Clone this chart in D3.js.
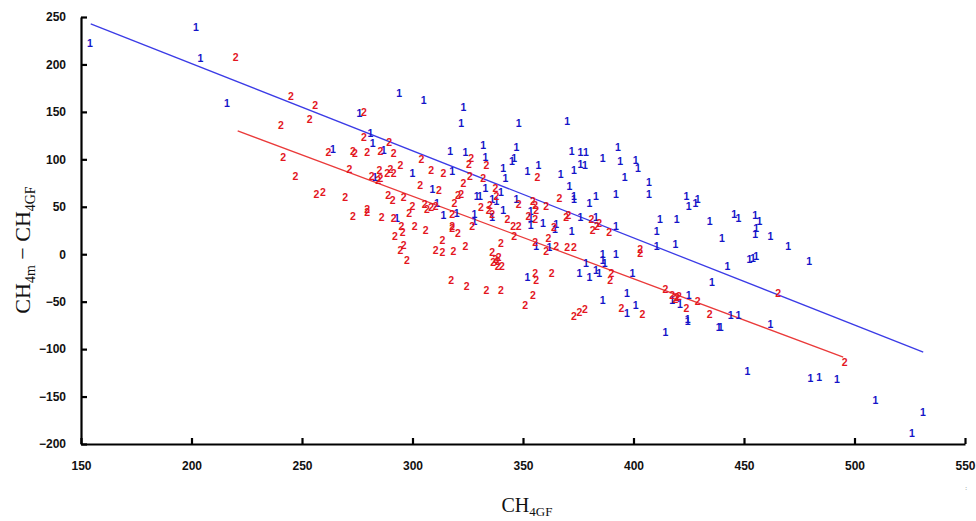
<!DOCTYPE html>
<html>
<head>
<meta charset="utf-8">
<script src="https://cdn.jsdelivr.net/npm/d3@7/dist/d3.min.js"></script>
<style>
  html, body { margin: 0; padding: 0; background: #fff; }
  svg { display: block; }
  .tick text { font-family: "Liberation Sans", Arial, sans-serif; font-weight: bold; font-size: 12px; fill: #111; }
  .axis path, .axis line { stroke: #000; stroke-width: 2.2; }
  .pt { font-family: "Liberation Sans", Arial, sans-serif; font-weight: bold; font-size: 10.5px; }
  .title { font-family: "Liberation Serif", "Times New Roman", serif; fill: #111; }
</style>
</head>
<body>
<svg id="chart" width="976" height="521"></svg>
<script>
// Group 1 observations: [CH4GF, CH4m - CH4GF]
const group1 = [
  [154,222],[202,239],[204,207],[216,159],[294,170],[305,162],[323,155],[322,138],[276,149],[281,128],
  [282,117],[264,111],[287,110],[317,109],[324,108],[283,81],[300,85],[318,87],[309,68],[329,61],
  [311,54],[314,41],[320,43],[293,38],[328,42],[348,138],[370,140],[332,115],[347,113],[333,102],
  [345,98],[346,101],[341,91],[357,94],[352,88],[342,80],[367,84],[372,109],[376,108],[378.5,108],
  [376,95],[378,94],[373,89],[386,101],[393,113],[394,98],[401,99],[402,91],[396,81],[407,76],
  [407,63],[392,63],[383,61],[380,54],[371,72],[373,61],[373,58],[333,70],[340,65],[336,58],
  [330.5,61],[338,56],[347,58],[341,46],[336,39],[328,35],[353.5,45],[353.5,38],[353.5,31],[359,33],
  [365,32],[364.5,26],[372,24],[376,39.5],[383,38.5],[392,30],[410.5,24],[410.5,8.5],[356,8.5],[362,7],
  [386,0],[386,-6],[387,-9],[392,0],[378.5,-10],[375.5,-20],[380,-24],[383,-17],[384.5,-20],[399.5,-20],
  [397,-41],[386,-49],[397,-62],[401,-54],[352,-24],[424,61],[425,51],[428,54],[429,58],[412,37],
  [419.5,37],[434.5,35],[445.5,42],[447.5,38],[455,41],[457,35],[455.5,27],[455,21],[462,19],[470,8.5],
  [479.5,-7],[419,11],[440,17],[452.5,-5.5],[454,-4],[455.5,-2.5],[442.5,-13],[435.5,-30],[417.5,-48],[421,-53],
  [425,-43],[444,-64],[447.5,-64],[424.5,-68],[424.5,-71],[438.5,-77],[439.5,-77],[462,-73.5],[414.5,-82],[451.5,-123],
  [480,-131],[484,-130],[492,-132],[509.5,-154],[531,-166.5],[526,-189]
];

// Group 2 observations: [CH4GF, CH4m - CH4GF]
const group2 = [
  [220,208],[245,167],[256,157],[253.5,142],[240.5,136],[241.5,102],[247,82],[256.5,63],[259.5,65],[262,107],
  [278,150],[278,123],[289.5,118],[273,109],[274,106.5],[279.5,108],[285.5,108.5],[291.5,106],[304,100],[326.5,101],
  [325.5,95],[271.5,90],[294.5,94],[285,89],[290,89.5],[288.5,85],[291.5,85],[281.5,82],[285.5,80],[284.5,77.5],
  [308.5,89],[314,85],[326,82],[303.5,72.5],[312,67.5],[323,75],[320.5,62],[322,63.5],[269.5,60.5],[289,62],
  [291,57],[296,60.5],[305.5,52.5],[306.5,47],[308.5,50],[310.5,50.5],[300,51],[298.5,43.5],[319,53.5],[318,42],
  [279.5,47],[279.5,44.5],[273,40],[286,39.5],[291.5,38],[327,29],[295,29.5],[295.5,23],[301,29.5],[306,25.5],
  [292,19],[318,30],[318,27],[320.5,22],[313.5,15],[296,9],[294.5,4],[310.5,4],[313.5,2],[318.5,3],
  [324,8.5],[297.5,-6],[317.5,-27.5],[324.5,-34],[333.5,94],[356.5,81.5],[332,80.5],[337.5,70],[338,61.5],[354.5,56],
  [355.5,51.5],[360.5,50.5],[366.5,59],[331,49.5],[335,51.5],[334.5,46],[336,42],[348,52.5],[343,37],[352.5,40.5],
  [356,46],[355.5,37],[364,28],[369.5,38.5],[370.5,41],[381,36.5],[381.5,25.5],[383.5,29.5],[384.5,32.5],[389,23],
  [403,5],[403,1],[345.5,29.5],[348,29],[346,19],[340,12],[336,2],[337.5,-5],[339,-3],[336.5,-8],
  [338.5,-7.5],[340.5,-13],[338.5,-12.5],[355.5,13],[360.5,3],[361.5,17],[365,8.5],[370,7],[373,7],[390,-20],
  [389.5,-27],[394.5,-57],[404,-63],[373,-65],[375.5,-61],[378,-58],[351,-54],[354.5,-43],[355.5,-20],[356,-27],
  [363,-20],[333.5,-38],[340,-38],[465.5,-41.5],[414.5,-37],[417.5,-43],[419,-47],[419.5,-45],[420.5,-44],[424,-57],
  [429,-50],[434.5,-63],[495.5,-114]
];

// Fitted regression lines (end points in data units)
const fit1 = [[154.4, 242.7], [531.1, -103.1]];
const fit2 = [[220.9, 130.0], [494.9, -108.4]];

const xTicks = [150, 200, 250, 300, 350, 400, 450, 500, 550];
const yTicks = [-200, -150, -100, -50, 0, 50, 100, 150, 200, 250];

const colors = { g1: "#1414c8", g2: "#e3161e", l1: "#3b3be6", l2: "#ea3a3a" };

const svg = d3.select("#chart");
const x = d3.scaleLinear().domain([150, 550]).range([81, 965]);
const y = d3.scaleLinear().domain([-200, 250]).range([444, 17]);

// axes
svg.append("g")
  .attr("class", "axis")
  .attr("transform", `translate(${x(150)},0)`)
  .call(d3.axisLeft(y).tickValues(yTicks).tickSizeInner(-6).tickSizeOuter(0).tickPadding(15).tickFormat(d3.format("d")));

svg.append("g")
  .attr("class", "axis")
  .attr("transform", `translate(0,${y(-200)})`)
  .call(d3.axisBottom(x).tickValues(xTicks).tickSizeInner(-6).tickSizeOuter(0).tickPadding(17).tickFormat(d3.format("d")));

// regression lines
const line = d3.line().x(d => x(d[0])).y(d => y(d[1]));
svg.append("path").datum(fit1).attr("d", line).attr("fill", "none").attr("stroke", colors.l1).attr("stroke-width", 1.3);
svg.append("path").datum(fit2).attr("d", line).attr("fill", "none").attr("stroke", colors.l2).attr("stroke-width", 1.3);

// point symbols
function drawGroup(data, label, color) {
  svg.append("g").selectAll("text").data(data).join("text")
    .attr("class", "pt")
    .attr("x", d => x(d[0]))
    .attr("y", d => y(d[1]))
    .attr("text-anchor", "middle")
    .attr("dy", "0.36em")
    .attr("fill", color)
    .text(label);
}
drawGroup(group1, "1", colors.g1);
drawGroup(group2, "2", colors.g2);

// axis titles
const xt = svg.append("text").attr("class", "title")
  .attr("x", 527).attr("y", 512).attr("text-anchor", "middle").attr("font-size", 20);
xt.append("tspan").text("CH");
xt.append("tspan").attr("font-size", 13).attr("dy", 4).text("4GF");

const yt = svg.append("text").attr("class", "title")
  .attr("transform", "translate(30,250) rotate(-90)").attr("text-anchor", "middle").attr("font-size", 22);
yt.append("tspan").text("CH");
yt.append("tspan").attr("font-size", 14).attr("dy", 5).text("4m");
yt.append("tspan").attr("dy", -5).text(" \u2212 CH");
yt.append("tspan").attr("font-size", 14).attr("dy", 5).text("4GF");

svg.append("text").attr("x", 966).attr("y", 490).attr("text-anchor", "middle")
  .attr("font-size", 6).attr("fill", "#777").text(":");
</script>
</body>
</html>
